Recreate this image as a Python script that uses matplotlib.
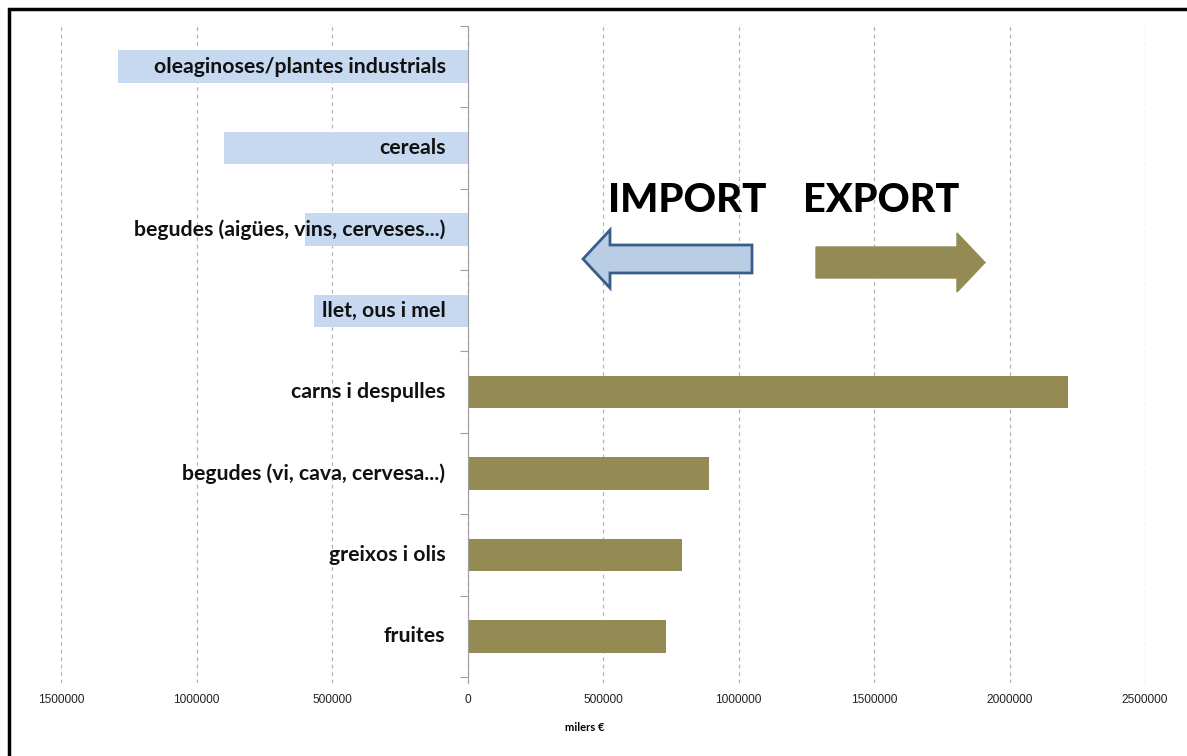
import matplotlib.pyplot as plt
from matplotlib.patches import FancyArrow, Rectangle
from matplotlib.ticker import FuncFormatter

# categories, from top to bottom (imports negative, exports positive), milers €
categories = ['oleaginoses/plantes industrials', 'cereals',
              'begudes (aigües, vins, cerveses...)', 'llet, ous i mel',
              'carns i despulles', 'begudes (vi, cava, cervesa...)',
              'greixos i olis', 'fruites']
values = [-1290000, -900000, -600000, -565000,
          2215000, 890000, 790000, 732000]
xticks = [-1500000, -1000000, -500000, 0, 500000, 1000000, 1500000, 2000000, 2500000]

import_color = '#c6d9f1'
export_color = '#948a54'

W, H = 1187, 756
fig = plt.figure(figsize=(W / 100, H / 100), dpi=100)
ax = fig.add_axes([61 / W, (H - 683) / H, (1145 - 61) / W, (683 - 26) / H])

ypos = list(range(len(categories)))
colors = [import_color if v < 0 else export_color for v in values]
ax.barh(ypos, values, height=0.4, color=colors, zorder=2)

ax.set_xlim(xticks[0], xticks[-1])
ax.set_ylim(len(categories) - 0.5 + 0.074, -0.5)
ax.set_xticks(xticks)
ax.xaxis.set_major_formatter(FuncFormatter(lambda v, p: '%d' % abs(v)))
ax.tick_params(axis='x', length=0, pad=8, labelsize=8.6, colors='#222222')
for lab in ax.get_xticklabels():
    lab.set_family('Liberation Sans')

ax.grid(axis='x', linestyle=(0, (3, 3)), color='#b4b4b4', linewidth=0.9)
ax.set_axisbelow(True)

for s in ['top', 'right', 'bottom']:
    ax.spines[s].set_visible(False)
ax.spines['left'].set_position(('data', 0))
ax.spines['left'].set_color('#a0a0a0')
ax.spines['left'].set_zorder(3)
ax.set_yticks([y - 0.5 for y in range(len(categories) + 1)])
ax.set_yticklabels([])
ax.tick_params(axis='y', length=6, color='#a0a0a0', direction='out')

for y, name in zip(ypos, categories):
    ax.annotate(name, xy=(0, y), xytext=(-22, 0), textcoords='offset pixels',
                ha='right', va='center', fontsize=15.3, fontweight='bold',
                family='Lato', color='#111111', zorder=4)

ax.set_xlabel('milers €', fontsize=8, fontweight='bold', family='Lato')
ax.xaxis.set_label_coords((585 - 61) / (1145 - 61), -(722 - 683) / (683 - 26))

# IMPORT / EXPORT arrows and titles
fig.text(687 / W, 1 - 200 / H, 'IMPORT', ha='center', va='center',
         fontsize=29, fontweight='black', family='Lato')
fig.text(881 / W, 1 - 200 / H, 'EXPORT', ha='center', va='center',
         fontsize=28.5, fontweight='black', family='Lato')
fig.patches.append(FancyArrow(752 / W, 1 - 259 / H, -(752 - 583) / W, 0,
                              width=28 / H, head_width=58 / H, head_length=27 / W,
                              length_includes_head=True, transform=fig.transFigure,
                              facecolor='#b9cde5', edgecolor='#385d8a', linewidth=2))
fig.patches.append(FancyArrow(816 / W, 1 - 262.5 / H, (985 - 816) / W, 0,
                              width=31 / H, head_width=59 / H, head_length=28 / W,
                              length_includes_head=True, transform=fig.transFigure,
                              facecolor=export_color, edgecolor=export_color, linewidth=1))

# frame around the chart
fig.patches.append(Rectangle((9 / W, -0.1), 1.2, 1 - 9 / H + 0.1,
                             transform=fig.transFigure, fill=False,
                             edgecolor='black', linewidth=2.5))

fig.savefig('out.png', dpi=100)
